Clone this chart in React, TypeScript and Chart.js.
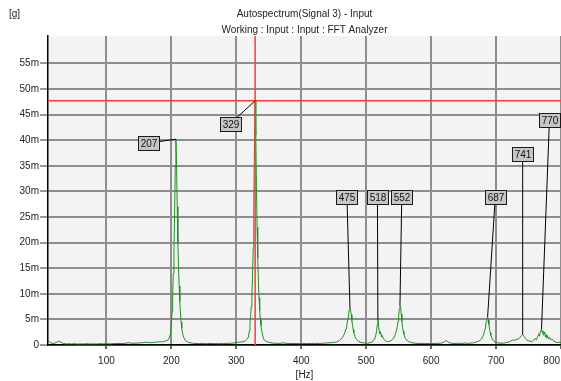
import React, { useEffect, useRef } from 'react';
import { Chart, registerables } from 'chart.js';

Chart.register(...registerables);

// Spectrum samples: frequency [Hz] and amplitude [milli-g]
const FREQ_HZ = [
  10, 12, 14, 16, 19, 22, 25, 28, 31, 34,
  38, 42, 46, 50, 55, 60, 65, 70, 75, 80,
  85, 90, 95, 100, 106, 112, 118, 124, 130, 134,
  138, 144, 150, 156, 160, 164, 168, 172, 176, 180,
  183, 186, 189, 192, 195, 197, 198, 199, 200, 201,
  202, 203, 204, 205, 206, 207, 208, 209, 210, 211,
  212, 213, 214, 215, 216, 217, 218, 220, 222, 225,
  229, 234, 238, 243, 248, 253, 258, 263, 268, 272,
  276, 280, 284, 288, 292, 296, 300, 304, 307, 310,
  312, 314, 316, 318, 319, 320, 321, 322, 323, 324,
  325, 326, 327, 328, 329, 330, 331, 332, 333, 334,
  335, 336, 337, 338, 339, 340, 342, 344, 347, 351,
  356, 362, 367, 372, 375, 380, 386, 392, 398, 404,
  410, 416, 422, 428, 434, 440, 445, 450, 454, 457,
  459, 461, 463, 465, 467, 469, 470, 471, 472, 473,
  474, 475, 476, 477, 478, 479, 480, 481, 483, 485,
  488, 492, 497, 502, 506, 509, 511, 513, 515, 516,
  517, 518, 519, 520, 521, 522, 523, 524, 525, 526,
  528, 530, 533, 536, 538, 540, 542, 544, 546, 548,
  549, 550, 551, 552, 553, 554, 555, 556, 557, 558,
  560, 562, 565, 570, 575, 580, 585, 590, 595, 600,
  605, 610, 615, 619, 622, 624, 626, 629, 633, 638,
  643, 648, 652, 656, 660, 664, 667, 670, 674, 677,
  679, 681, 682, 683, 684, 685, 686, 687, 688, 689,
  690, 691, 692, 694, 696, 699, 703, 708, 712, 716,
  720, 723, 726, 729, 732, 735, 737, 739, 741, 743,
  745, 747, 750, 753, 756, 758, 760, 762, 764, 766,
  767, 768, 770, 771, 772, 773, 774, 775, 776, 777,
  778, 779, 781, 782, 784, 786, 788, 791, 794, 797,
  800,
];

const AMP_MG = [
  0.9, 0.7, 0.4, 0.35, 0.3, 0.45, 0.65, 0.75, 0.45, 0.3,
  0.2, 0.25, 0.2, 0.25, 0.18, 0.22, 0.2, 0.25, 0.2, 0.22,
  0.2, 0.25, 0.22, 0.25, 0.22, 0.28, 0.3, 0.28, 0.35, 0.45,
  0.35, 0.35, 0.4, 0.45, 0.55, 0.5, 0.45, 0.5, 0.55, 0.6,
  0.65, 0.6, 0.7, 0.85, 1.0, 1.5, 2.0, 2.8, 4.0, 6.5,
  10, 14, 19, 26, 35, 40.2, 35, 27, 20, 15,
  11.5, 8.5, 6.2, 4.5, 3.3, 2.5, 1.9, 1.2, 0.85, 0.6,
  0.42, 0.32, 0.3, 0.28, 0.3, 0.25, 0.3, 0.28, 0.3, 0.25,
  0.28, 0.3, 0.32, 0.3, 0.35, 0.4, 0.45, 0.55, 0.6, 0.65,
  0.7, 0.85, 1.05, 1.5, 2.0, 2.7, 4.2, 5.6, 7.5, 10,
  13.5, 19, 28, 39, 47.7, 41, 31, 23, 17, 12.5,
  9.2, 6.8, 5.0, 3.8, 2.9, 2.2, 1.2, 0.85, 0.65, 0.5,
  0.38, 0.32, 0.3, 0.45, 0.35, 0.3, 0.28, 0.3, 0.27, 0.3,
  0.28, 0.3, 0.32, 0.3, 0.35, 0.4, 0.45, 0.5, 0.6, 0.75,
  0.9, 1.1, 1.4, 1.8, 2.4, 3.2, 3.8, 4.5, 5.3, 6.2,
  6.9, 7.2, 6.8, 5.9, 4.8, 3.8, 3.0, 2.4, 1.6, 1.1,
  0.75, 0.5, 0.38, 0.35, 0.45, 0.6, 0.8, 1.2, 2.0, 2.8,
  3.9, 5.0, 3.9, 2.7, 2.2, 2.5, 2.0, 1.6, 1.8, 1.35,
  1.0, 0.8, 0.65, 0.7, 0.85, 1.0, 1.3, 1.8, 2.5, 3.6,
  4.6, 5.8, 7.0, 7.8, 7.3, 6.0, 4.6, 3.5, 2.7, 2.1,
  1.4, 1.0, 0.7, 0.45, 0.35, 0.3, 0.32, 0.3, 0.28, 0.3,
  0.3, 0.32, 0.35, 0.5, 0.8, 0.85, 0.6, 0.4, 0.32, 0.3,
  0.35, 0.3, 0.4, 0.32, 0.35, 0.4, 0.5, 0.6, 0.8, 1.1,
  1.5, 2.1, 2.6, 3.2, 3.9, 4.6, 5.2, 5.5, 4.9, 4.0,
  3.1, 2.4, 1.9, 1.2, 0.85, 0.55, 0.4, 0.35, 0.38, 0.5,
  0.6, 0.8, 1.0, 0.9, 1.1, 1.2, 1.5, 1.8, 2.1, 1.7,
  1.3, 1.0, 0.8, 0.7, 0.65, 0.9, 1.3, 1.0, 1.6, 2.2,
  1.7, 2.6, 3.1, 2.4, 2.8, 1.9, 2.5, 2.2, 1.6, 2.0,
  1.4, 1.8, 1.2, 1.5, 1.0, 1.2, 0.85, 0.6, 0.5, 0.55,
  0.45,
];

const X_TICKS = [100, 200, 300, 400, 500, 600, 700, 800];
const Y_TICKS = [0, 5, 10, 15, 20, 25, 30, 35, 40, 45, 50, 55];
const X_MIN = 10;
const X_MAX = 800;
const Y_MAX = 60.35;

// Peak markers: peak frequency, and label box anchor (frequency, amplitude)
const PEAK_FREQS = [207, 329, 475, 518, 552, 687, 741, 770];
const LABEL_FREQS = [165.5, 290.3, 470.4, 517.3, 554.8, 698.8, 741, 782.2];
const LABEL_AMPS = [39.45, 43.2, 28.9, 28.9, 28.9, 28.9, 37.4, 44.0];

const CURSOR_FREQ = 329;
const CURSOR_AMP = 47.7;

const TITLE_LINES = ['Autospectrum(Signal 3) - Input', 'Working : Input : Input : FFT Analyzer'];
const Y_UNIT = '[g]';
const X_UNIT = '[Hz]';

const FONT = '10px "Liberation Sans", Arial, sans-serif';

export default function App() {
  const ref = useRef<HTMLCanvasElement>(null);

  useEffect(() => {
    const canvas = ref.current;
    if (!canvas) return;
    const points = FREQ_HZ.map((f, i) => ({ x: f, y: AMP_MG[i] }));

    const overlay = {
      id: 'overlay',
      beforeDraw(chart: any) {
        const { ctx, chartArea: a } = chart;
        ctx.save();
        ctx.fillStyle = '#ffffff';
        ctx.fillRect(0, 0, chart.width, chart.height);
        ctx.fillStyle = '#f3f3f3';
        ctx.fillRect(a.left, a.top, a.right - a.left, a.bottom - a.top);
        ctx.restore();
      },
      afterDatasetsDraw(chart: any) {
        const { ctx, chartArea: a, scales } = chart;
        const xs = scales.x;
        const ys = scales.y;
        ctx.save();
        // cursor
        ctx.strokeStyle = '#ff3a3a';
        ctx.lineWidth = 1.5;
        const cx = xs.getPixelForValue(CURSOR_FREQ);
        const cy = ys.getPixelForValue(CURSOR_AMP);
        ctx.beginPath();
        ctx.moveTo(cx, a.top);
        ctx.lineTo(cx, a.bottom);
        ctx.moveTo(a.left, cy);
        ctx.lineTo(a.right, cy);
        ctx.stroke();

        // peak labels
        ctx.font = FONT;
        PEAK_FREQS.forEach((f, i) => {
          const idx = FREQ_HZ.indexOf(f);
          const amp = AMP_MG[idx];
          const px = xs.getPixelForValue(f);
          const py = ys.getPixelForValue(amp);
          const bx = xs.getPixelForValue(LABEL_FREQS[i]);
          const by = ys.getPixelForValue(LABEL_AMPS[i]);
          ctx.strokeStyle = '#000';
          ctx.lineWidth = 1;
          ctx.beginPath();
          ctx.moveTo(bx, by);
          ctx.lineTo(px, py);
          ctx.stroke();
          const w = 21;
          const h = 14;
          const l = Math.round(bx - w / 2) + 0.5;
          const t = Math.round(by - h / 2) + 0.5;
          ctx.fillStyle = '#c6c6c6';
          ctx.fillRect(l, t, w, h);
          ctx.strokeStyle = '#1a1a1a';
          ctx.strokeRect(l, t, w, h);
          ctx.fillStyle = '#111';
          ctx.textAlign = 'center';
          ctx.textBaseline = 'middle';
          ctx.fillText(String(f), l + w / 2, t + h / 2 + 0.5);
        });
        ctx.restore();
      },
      afterDraw(chart: any) {
        const { ctx, chartArea: a, scales } = chart;
        const xs = scales.x;
        ctx.save();
        ctx.font = FONT;
        ctx.fillStyle = '#222';
        ctx.textBaseline = 'middle';
        ctx.textAlign = 'center';
        const mid = (a.left + a.right) / 2;
        ctx.fillText(TITLE_LINES[0], mid, 14);
        ctx.fillText(TITLE_LINES[1], mid, 30);
        ctx.textAlign = 'left';
        ctx.fillText(Y_UNIT, 9, 14);
        // x tick labels
        X_TICKS.forEach((v, i) => {
          const x = xs.getPixelForValue(v);
          const w = ctx.measureText(String(v)).width;
          let lx = x - w / 2;
          if (lx + w > chart.width - 1) lx = chart.width - 1 - w;
          ctx.textAlign = 'left';
          ctx.fillText(String(v), lx, a.bottom + 16);
        });
        ctx.textAlign = 'center';
        ctx.fillText(X_UNIT, mid, a.bottom + 30);
        ctx.restore();
      },
    };

    const chart = new Chart(canvas, {
      type: 'line',
      data: {
        datasets: [
          {
            data: points,
            borderColor: '#1f8f1f',
            borderWidth: 1,
            pointRadius: 0,
            tension: 0,
            fill: false,
          },
        ],
      },
      options: {
        animation: false,
        responsive: false,
        events: [],
        layout: { padding: { top: 36, right: 0, left: 0, bottom: 0 } },
        plugins: { legend: { display: false }, tooltip: { enabled: false }, title: { display: false } },
        scales: {
          x: {
            type: 'linear',
            min: X_MIN,
            max: X_MAX,
            afterBuildTicks: (s: any) => {
              s.ticks = X_TICKS.map((v) => ({ value: v }));
            },
            afterFit: (s: any) => {
              s.height = 36;
            },
            ticks: { display: false },
            grid: { color: '#8e8e8e', lineWidth: 2, tickLength: 4, tickColor: '#666', drawTicks: true },
            border: { color: '#000', width: 1.5 },
          },
          y: {
            type: 'linear',
            min: 0,
            max: Y_MAX,
            afterBuildTicks: (s: any) => {
              s.ticks = Y_TICKS.map((v) => ({ value: v }));
            },
            afterFit: (s: any) => {
              s.width = 48;
            },
            ticks: {
              color: '#222',
              font: { family: '"Liberation Sans", Arial, sans-serif', size: 10 },
              padding: 1,
              callback: (v: any) => (Number(v) === 0 ? '0' : `${v}m`),
            },
            grid: { color: '#8e8e8e', lineWidth: 2, tickLength: 8, tickColor: '#333', tickWidth: 1 },
            border: { color: '#000', width: 1.5 },
          },
        },
      },
      plugins: [overlay],
    });
    return () => chart.destroy();
  }, []);

  return (
    <div style={{ position: 'absolute', left: 0, top: 0, width: 561, height: 381, background: '#fff' }}>
      <canvas ref={ref} width={561} height={381} style={{ display: 'block' }} />
    </div>
  );
}
